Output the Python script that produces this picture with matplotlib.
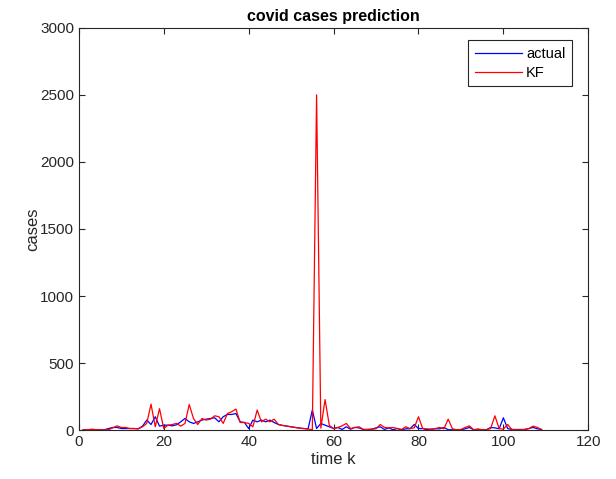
import numpy as np
import matplotlib
matplotlib.use("Agg")
import matplotlib.pyplot as plt

plt.rcParams['font.family'] = ['Liberation Sans', 'DejaVu Sans']

# time index
k = np.arange(1, 110)

actual = [
    3, 3, 4, 3, 3, 3, 12, 20, 20, 12,          # 1-10
    12, 12, 12, 10, 30, 75, 42, 100, 30, 37,   # 11-20
    37, 32, 40, 62, 87, 62, 50, 62, 75, 82,    # 21-30
    87, 92, 62, 100, 117, 117, 124, 62, 57, 12,  # 31-40
    75, 62, 75, 62, 75, 57, 42, 35, 30, 25,    # 41-50
    20, 15, 12, 10, 150, 12, 50, 37, 25, 12,   # 51-60
    20, 5, 25, 7, 20, 17, 5, 5, 7, 17,         # 61-70
    25, 5, 17, 3, 12, 3, 10, 10, 42, 12,       # 71-80
    12, 3, 7, 10, 10, 20, 3, 3, 2, 3,          # 81-90
    10, 20, 3, 7, 3, 3, 20, 17, 10, 92,        # 91-100
    12, 5, 5, 5, 5, 12, 20, 10, 5              # 101-109
]

kf = [
    2, 3, 7, 4, 3, 2, 3, 17, 32, 20,           # 1-10
    20, 12, 12, 10, 25, 50, 194, 25, 160, 12,  # 11-20
    37, 42, 50, 30, 50, 191, 87, 42, 87, 75,   # 21-30
    82, 107, 100, 50, 124, 137, 157, 57, 57, 50,  # 31-40
    25, 150, 62, 82, 62, 82, 42, 35, 30, 25,   # 41-50
    20, 15, 12, 8, 3, 2500, 15, 228, 35, 12,   # 51-60
    20, 32, 50, 12, 20, 25, 5, 5, 7, 10,       # 61-70
    42, 20, 17, 20, 12, 5, 25, 12, 17, 100,    # 71-80
    12, 10, 7, 12, 20, 10, 82, 10, 3, 5,       # 81-90
    20, 32, 3, 7, 3, 3, 12, 107, 12, 7,        # 91-100
    42, 5, 3, 3, 5, 12, 30, 20, 5              # 101-109
]

xticks = [0, 20, 40, 60, 80, 100, 120]
yticks = [0, 500, 1000, 1500, 2000, 2500, 3000]

fig = plt.figure(figsize=(6.16, 4.79), dpi=100)
ax = fig.add_axes([0.128, 0.102, 0.827, 0.840])

ax.plot(k, actual, color='#0000ff', lw=0.9, label='actual')
ax.plot(k, kf, color='#ff0000', lw=0.9, label='KF')

ax.set_xlim(0, 120)
ax.set_ylim(0, 3000)
ax.set_xticks(xticks)
ax.set_yticks(yticks)

dark = '#262626'
for s in ax.spines.values():
    s.set_color(dark)
    s.set_linewidth(0.8)
ax.tick_params(direction='in', length=4, width=0.8, colors=dark,
               labelsize=11, top=True, right=True, labeltop=False, labelright=False)

ax.set_xlabel('time k', fontsize=12, color=dark, labelpad=2)
ax.set_ylabel('cases', fontsize=12, color=dark, labelpad=0)
ax.set_title('covid cases prediction', fontsize=11.5, fontweight='bold', color='black', pad=5)

leg = ax.legend(loc='upper right', bbox_to_anchor=(0.968, 0.969), fontsize=10.5,
                frameon=True, fancybox=False, edgecolor=dark, framealpha=1,
                handlelength=3.2, handletextpad=0.3, borderpad=0.45, labelspacing=0.35,
                borderaxespad=0)
leg.get_frame().set_linewidth(0.8)

fig.savefig('out.png', dpi=100)
